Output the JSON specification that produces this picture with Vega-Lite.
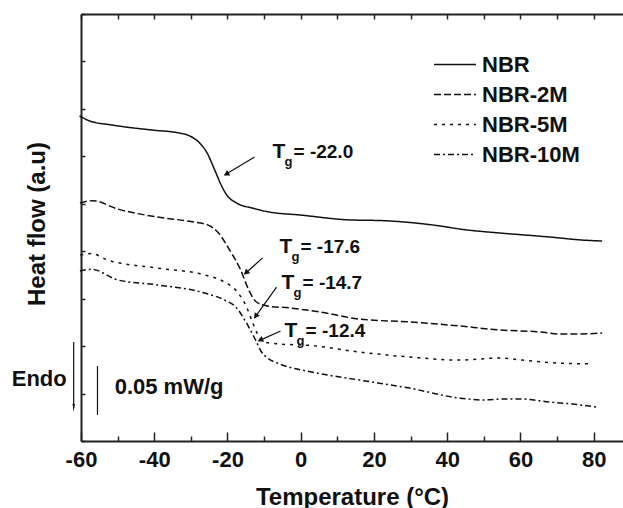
{
  "$schema": "https://vega.github.io/schema/vega-lite/v6.json",
  "width": 542,
  "height": 427,
  "autosize": {"type": "none"},
  "padding": {"left": 81, "top": 14, "right": 0, "bottom": 67},
  "background": "white",
  "config": {
    "view": {"stroke": null},
    "font": "Liberation Sans",
    "axis": {
      "domainColor": "#222", "domainWidth": 2, "tickColor": "#222", "tickWidth": 1.5, "grid": false,
      "labelFont": "Liberation Sans", "titleFont": "Liberation Sans", "labelFontWeight": "bold", "titleFontWeight": "bold",
      "labelColor": "#111", "titleColor": "#111"
    }
  },
  "datasets": {
    "curves": [
      {"series": "NBR", "temp": -60.4, "heat": 13.70}, {"series": "NBR", "temp": -57.6, "heat": 13.49}, {"series": "NBR", "temp": -52, "heat": 13.33},
      {"series": "NBR", "temp": -45.9, "heat": 13.20}, {"series": "NBR", "temp": -40, "heat": 13.10}, {"series": "NBR", "temp": -33.1, "heat": 12.98},
      {"series": "NBR", "temp": -30.3, "heat": 12.86}, {"series": "NBR", "temp": -27.6, "heat": 12.56}, {"series": "NBR", "temp": -25.7, "heat": 12.18},
      {"series": "NBR", "temp": -23.5, "heat": 11.43}, {"series": "NBR", "temp": -21.6, "heat": 10.75}, {"series": "NBR", "temp": -20.2, "heat": 10.37},
      {"series": "NBR", "temp": -17.5, "heat": 10.03}, {"series": "NBR", "temp": -13.2, "heat": 9.82}, {"series": "NBR", "temp": -8.5, "heat": 9.65},
      {"series": "NBR", "temp": -0.4, "heat": 9.53}, {"series": "NBR", "temp": 13.3, "heat": 9.32}, {"series": "NBR", "temp": 22.3, "heat": 9.29},
      {"series": "NBR", "temp": 35.9, "heat": 9.11}, {"series": "NBR", "temp": 45.2, "heat": 8.90}, {"series": "NBR", "temp": 54.2, "heat": 8.77},
      {"series": "NBR", "temp": 67.9, "heat": 8.60}, {"series": "NBR", "temp": 76.9, "heat": 8.47}, {"series": "NBR", "temp": 82.3, "heat": 8.43},

      {"series": "NBR-2M", "temp": -60.3, "heat": 10.03}, {"series": "NBR-2M", "temp": -56.8, "heat": 10.13}, {"series": "NBR-2M", "temp": -50, "heat": 9.78},
      {"series": "NBR-2M", "temp": -39.1, "heat": 9.44}, {"series": "NBR-2M", "temp": -30, "heat": 9.25}, {"series": "NBR-2M", "temp": -25.4, "heat": 9.11},
      {"series": "NBR-2M", "temp": -22.7, "heat": 8.81}, {"series": "NBR-2M", "temp": -19.4, "heat": 8.05}, {"series": "NBR-2M", "temp": -16.4, "heat": 7.21},
      {"series": "NBR-2M", "temp": -14.2, "heat": 6.37}, {"series": "NBR-2M", "temp": -12.1, "heat": 5.86}, {"series": "NBR-2M", "temp": -9.1, "heat": 5.69},
      {"series": "NBR-2M", "temp": -3.1, "heat": 5.61}, {"series": "NBR-2M", "temp": 5.1, "heat": 5.44}, {"series": "NBR-2M", "temp": 16, "heat": 5.14},
      {"series": "NBR-2M", "temp": 29.7, "heat": 5.02}, {"series": "NBR-2M", "temp": 43.3, "heat": 4.85}, {"series": "NBR-2M", "temp": 54.2, "heat": 4.68},
      {"series": "NBR-2M", "temp": 65.2, "heat": 4.60}, {"series": "NBR-2M", "temp": 70.6, "heat": 4.51}, {"series": "NBR-2M", "temp": 76.1, "heat": 4.51},
      {"series": "NBR-2M", "temp": 82.3, "heat": 4.55},

      {"series": "NBR-5M", "temp": -60.2, "heat": 7.84}, {"series": "NBR-5M", "temp": -57.1, "heat": 7.90}, {"series": "NBR-5M", "temp": -52.7, "heat": 7.63},
      {"series": "NBR-5M", "temp": -39.1, "heat": 7.29}, {"series": "NBR-5M", "temp": -26.3, "heat": 7.00}, {"series": "NBR-5M", "temp": -20.8, "heat": 6.70},
      {"series": "NBR-5M", "temp": -17.3, "heat": 6.28}, {"series": "NBR-5M", "temp": -14.8, "heat": 5.65}, {"series": "NBR-5M", "temp": -13.2, "heat": 5.02},
      {"series": "NBR-5M", "temp": -11.8, "heat": 4.51}, {"series": "NBR-5M", "temp": -9.9, "heat": 4.17}, {"series": "NBR-5M", "temp": -5.8, "heat": 4.09},
      {"series": "NBR-5M", "temp": 2.4, "heat": 4.03}, {"series": "NBR-5M", "temp": 16, "heat": 3.75}, {"series": "NBR-5M", "temp": 29.7, "heat": 3.54},
      {"series": "NBR-5M", "temp": 43.3, "heat": 3.41}, {"series": "NBR-5M", "temp": 54.2, "heat": 3.50}, {"series": "NBR-5M", "temp": 60.5, "heat": 3.41},
      {"series": "NBR-5M", "temp": 69.8, "heat": 3.29}, {"series": "NBR-5M", "temp": 79.6, "heat": 3.25},

      {"series": "NBR-10M", "temp": -60.3, "heat": 7.17}, {"series": "NBR-10M", "temp": -57.1, "heat": 7.24}, {"series": "NBR-10M", "temp": -50, "heat": 6.79},
      {"series": "NBR-10M", "temp": -39.1, "heat": 6.58}, {"series": "NBR-10M", "temp": -26.3, "heat": 6.24}, {"series": "NBR-10M", "temp": -20.8, "heat": 5.94},
      {"series": "NBR-10M", "temp": -17.5, "heat": 5.61}, {"series": "NBR-10M", "temp": -15.3, "heat": 5.10}, {"series": "NBR-10M", "temp": -12.6, "heat": 4.34},
      {"series": "NBR-10M", "temp": -10.7, "heat": 3.75}, {"series": "NBR-10M", "temp": -9.1, "heat": 3.50}, {"series": "NBR-10M", "temp": -5.8, "heat": 3.25},
      {"series": "NBR-10M", "temp": 2.9, "heat": 2.91}, {"series": "NBR-10M", "temp": 16, "heat": 2.57}, {"series": "NBR-10M", "temp": 29.7, "heat": 2.23},
      {"series": "NBR-10M", "temp": 43.3, "heat": 1.81}, {"series": "NBR-10M", "temp": 49.6, "heat": 1.73}, {"series": "NBR-10M", "temp": 55.6, "heat": 1.77},
      {"series": "NBR-10M", "temp": 60.5, "heat": 1.77}, {"series": "NBR-10M", "temp": 67.9, "heat": 1.64}, {"series": "NBR-10M", "temp": 74.2, "heat": 1.56},
      {"series": "NBR-10M", "temp": 80.7, "heat": 1.43}
    ],
    "rules": [
      {"id": "a1", "temp": -12.6, "heat": 11.97, "temp2": -20.8, "heat2": 11.21},
      {"id": "a2", "temp": -10.4, "heat": 7.72, "temp2": -15.3, "heat2": 7.04},
      {"id": "a3", "temp": -6.6, "heat": 6.49, "temp2": -12.6, "heat2": 5.19},
      {"id": "a4", "temp": -5.5, "heat": 4.64, "temp2": -11.5, "heat2": 4.22},
      {"id": "endo", "temp": -62.0, "heat": 4.17, "temp2": -62.0, "heat2": 1.4},
      {"id": "bar", "temp": -55.5, "heat": 3.16, "temp2": -55.5, "heat2": 1.10}
    ],
    "heads": [
      {"id": "a1", "temp": -20.1, "heat": 11.27},
      {"id": "a2", "temp": -14.75, "heat": 7.12},
      {"id": "a3", "temp": -12.15, "heat": 5.29},
      {"id": "a4", "temp": -10.8, "heat": 4.27},
      {"id": "endo", "temp": -62.0, "heat": 1.45}
    ],
    "tg": [
      {"temp": -7.7, "heat": 12.18, "label": "= -22.0"},
      {"temp": -5.8, "heat": 8.18, "label": "= -17.6"},
      {"temp": -5.25, "heat": 6.66, "label": "= -14.7"},
      {"temp": -4.4, "heat": 4.62, "label": "= -12.4"}
    ],
    "notes": [
      {"temp": -63.9, "heat": 2.61, "label": "Endo", "side": "right"},
      {"temp": -50.8, "heat": 2.28, "label": "0.05 mW/g", "side": "left"}
    ]
  },
  "layer": [
    {
      "data": {"name": "curves"},
      "mark": {"type": "line", "strokeWidth": 1.5, "color": "#111", "interpolate": "monotone"},
      "encoding": {
        "x": {
          "field": "temp", "type": "quantitative",
          "scale": {"domain": [-60, 88], "nice": false, "zero": false},
          "axis": {
            "orient": "bottom", "domain": true, "domainColor": "#222", "domainWidth": 2,
            "values": [-60, -50, -40, -30, -20, -10, 0, 10, 20, 30, 40, 50, 60, 70, 80],
            "labelExpr": "datum.value % 20 === 0 ? '' + datum.value : ''",
            "tickSize": {"condition": {"test": "datum.value % 20 === 0", "value": -9}, "value": -5},
            "labelFontSize": 22, "labelPadding": 17, "labelFlush": false,
            "title": "Temperature (°C)", "titleFontSize": 24, "titlePadding": 15
          }
        },
        "y": {
          "field": "heat", "type": "quantitative",
          "scale": {"domain": [0, 18], "nice": false, "zero": false},
          "axis": {
            "orient": "left", "domain": true, "values": [0,1,2,3,4,5,6,7,8,9,10,11,12,13,14,15,16,17,18],
            "labels": false, "tickSize": -4,
            "title": "Heat flow (a.u)", "titleFontSize": 24, "titlePadding": 31, "titleY": 209.5
          }
        },
        "strokeDash": {
          "field": "series", "type": "nominal",
          "scale": {"domain": ["NBR", "NBR-2M", "NBR-5M", "NBR-10M"], "range": [[1, 0], [7, 3], [3, 5], [6, 3, 2, 3]]},
          "legend": {
            "orient": "none", "legendX": 362.5, "legendY": 39, "title": null,
            "symbolType": "M-2,0H2", "symbolSize": 441, "symbolStrokeWidth": 1.5, "symbolStrokeColor": "#111",
            "labelFontSize": 22, "labelFont": "Liberation Sans", "labelFontWeight": "bold", "labelColor": "#111",
            "labelOffset": 15.5, "rowPadding": 7.0, "padding": 0
          }
        }
      }
    },
    {
      "data": {"name": "rules"},
      "mark": {"type": "rule", "strokeWidth": 1.2, "color": "#111"},
      "encoding": {
        "x": {
          "field": "temp", "type": "quantitative",
          "axis": {"orient": "top", "domain": true, "domainColor": "#222", "domainWidth": 2, "ticks": true, "tickColor": "#222", "values": [-60, -50, -40, -30, -20, -10, 0, 10, 20, 30, 40, 50, 60, 70, 80], "labels": false, "tickSize": -5, "title": null}
        },
        "y": {"field": "heat", "type": "quantitative"},
        "x2": {"field": "temp2"},
        "y2": {"field": "heat2"}
      }
    },
    {
      "data": {"name": "heads"},
      "transform": [{"filter": "datum.id === 'a1'"}],
      "mark": {"type": "point", "shape": "triangle", "angle": 239, "filled": true, "size": 40, "color": "#111", "opacity": 1},
      "encoding": {"x": {"field": "temp", "type": "quantitative", "axis": null}, "y": {"field": "heat", "type": "quantitative"}}
    },
    {
      "data": {"name": "heads"},
      "transform": [{"filter": "datum.id === 'a2'"}],
      "mark": {"type": "point", "shape": "triangle", "angle": 228, "filled": true, "size": 40, "color": "#111", "opacity": 1},
      "encoding": {"x": {"field": "temp", "type": "quantitative", "axis": null}, "y": {"field": "heat", "type": "quantitative"}}
    },
    {
      "data": {"name": "heads"},
      "transform": [{"filter": "datum.id === 'a3'"}],
      "mark": {"type": "point", "shape": "triangle", "angle": 215, "filled": true, "size": 40, "color": "#111", "opacity": 1},
      "encoding": {"x": {"field": "temp", "type": "quantitative", "axis": null}, "y": {"field": "heat", "type": "quantitative"}}
    },
    {
      "data": {"name": "heads"},
      "transform": [{"filter": "datum.id === 'a4'"}],
      "mark": {"type": "point", "shape": "triangle", "angle": 246, "filled": true, "size": 40, "color": "#111", "opacity": 1},
      "encoding": {"x": {"field": "temp", "type": "quantitative", "axis": null}, "y": {"field": "heat", "type": "quantitative"}}
    },
    {
      "data": {"name": "heads"},
      "transform": [{"filter": "datum.id === 'endo'"}],
      "mark": {"type": "point", "shape": "wedge", "angle": 180, "filled": true, "size": 90, "color": "#111", "opacity": 1},
      "encoding": {"x": {"field": "temp", "type": "quantitative", "axis": null}, "y": {"field": "heat", "type": "quantitative"}}
    },
    {
      "data": {"name": "tg"},
      "mark": {"type": "text", "text": "T", "align": "left", "baseline": "middle", "fontSize": 21, "fontWeight": "bold", "font": "Liberation Sans", "color": "#111"},
      "encoding": {"x": {"field": "temp", "type": "quantitative", "axis": null}, "y": {"field": "heat", "type": "quantitative"}}
    },
    {
      "data": {"name": "tg"},
      "mark": {"type": "text", "text": "g", "align": "left", "baseline": "middle", "dx": 12, "dy": 10, "fontSize": 13, "fontWeight": "bold", "font": "Liberation Sans", "color": "#111"},
      "encoding": {"x": {"field": "temp", "type": "quantitative", "axis": null}, "y": {"field": "heat", "type": "quantitative"}}
    },
    {
      "data": {"name": "tg"},
      "mark": {"type": "text", "align": "left", "baseline": "middle", "dx": 21, "fontSize": 19, "fontWeight": "bold", "font": "Liberation Sans", "color": "#111"},
      "encoding": {"x": {"field": "temp", "type": "quantitative", "axis": null}, "y": {"field": "heat", "type": "quantitative"}, "text": {"field": "label"}}
    },
    {
      "data": {"name": "notes"},
      "transform": [{"filter": "datum.side === 'right'"}],
      "mark": {"type": "text", "align": "right", "baseline": "middle", "fontSize": 22, "fontWeight": "bold", "font": "Liberation Sans", "color": "#111"},
      "encoding": {"x": {"field": "temp", "type": "quantitative", "axis": null}, "y": {"field": "heat", "type": "quantitative"}, "text": {"field": "label"}}
    },
    {
      "data": {"name": "notes"},
      "transform": [{"filter": "datum.side === 'left'"}],
      "mark": {"type": "text", "align": "left", "baseline": "middle", "fontSize": 22, "fontWeight": "bold", "font": "Liberation Sans", "color": "#111"},
      "encoding": {"x": {"field": "temp", "type": "quantitative", "axis": null}, "y": {"field": "heat", "type": "quantitative"}, "text": {"field": "label"}}
    }
  ],
  "resolve": {"axis": {"x": "independent"}}
}
